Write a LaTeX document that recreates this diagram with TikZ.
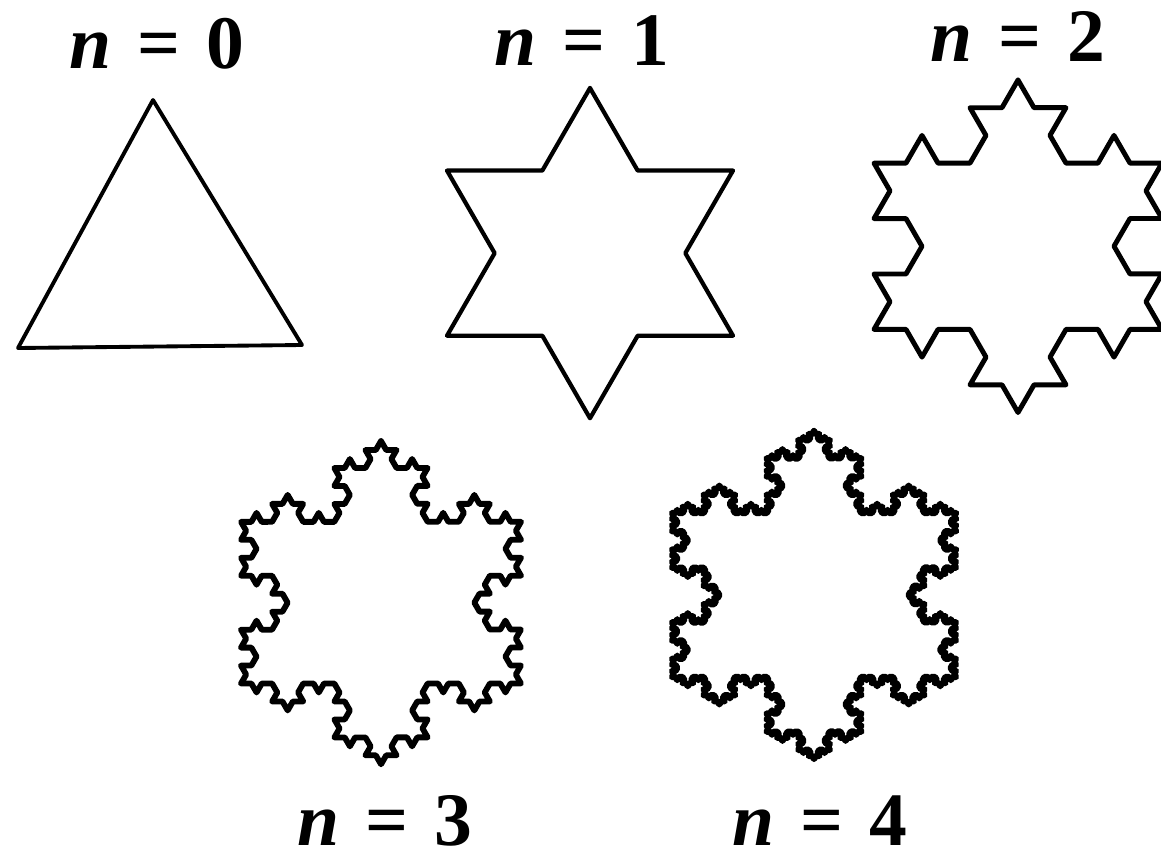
\documentclass[tikz,border=0pt]{standalone}
\usepackage{fontspec}
\setmainfont{Liberation Serif}
\usetikzlibrary{decorations.fractals}

\newcommand{\stage}[1]{\textit{n}\hspace{0.34em}=\hspace{0.34em}#1}

\begin{document}
\begin{tikzpicture}[x=0.02cm, y=-0.02cm,
		lbl/.style = {inner sep=0pt, anchor=base, font=\fontsize{43}{46}\selectfont\bfseries},
		flake/.style = {draw, line width=2.4pt, line join=round, line cap=round, decoration=Koch snowflake}
	]
	\useasboundingbox (0,0) rectangle (1161,859);

	\node[lbl] (n0) at (157,68)  {\stage{0}};
	\node[lbl] (n1) at (582,65)  {\stage{1}};
	\node[lbl] (n2) at (1018,61) {\stage{2}};
	\node[lbl] (n3) at (385,845) {\stage{3}};
	\node[lbl] (n4) at (820,845) {\stage{4}};

	% n = 0
	\draw[flake, line width=2.2pt] (153,100) -- (302,345) -- (18,348) -- cycle;
	% n = 1
	\draw[flake] decorate{(590,88) -- (733,335.7) -- (447,335.7) -- (590,88)};
	% n = 2
	\draw[flake, line width=2.8pt] decorate{decorate{(1018,80) -- (1162,329.4) -- (874,329.4) -- (1018,80)}};
	% n = 3
	\draw[flake, line width=3.3pt] decorate{decorate{decorate{(381,441) -- (521,683.5) -- (241,683.5) -- (381,441)}}};
	% n = 4
	\draw[flake, line width=3.6pt] decorate{decorate{decorate{decorate{(814,431) -- (956,677) -- (672,677) -- (814,431)}}}};
\end{tikzpicture}
\end{document}
